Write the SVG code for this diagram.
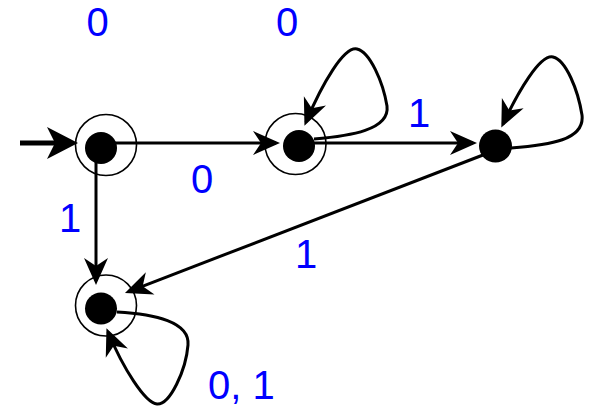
<svg xmlns="http://www.w3.org/2000/svg" width="593" height="407" viewBox="0 0 593 407">
<defs>
<style>
.ring{fill:none;stroke:#000;stroke-width:1.6}
.dot{fill:#000}
.edge{fill:none;stroke:#000;stroke-width:3;marker-end:url(#ah)}
.lbl{font-family:"Liberation Sans",Arial,sans-serif;font-size:40px;fill:#0000ff}
</style>
<marker id="ah" viewBox="-28 -13 30 26" markerWidth="30" markerHeight="26" refX="-4" refY="0" orient="auto" markerUnits="userSpaceOnUse">
<path d="M0,0 L-27,-12 L-19,0 L-27,12 Z" fill="#000"/>
</marker>
<marker id="ahBig" viewBox="-32 -17 34 34" markerWidth="34" markerHeight="34" refX="-8" refY="0" orient="auto" markerUnits="userSpaceOnUse">
<path d="M0,0 L-31,-16 L-23,0 L-31,16 Z" fill="#000"/>
</marker>
</defs>
<rect width="593" height="407" fill="#fff"/>
<g id="connectors">
<line x1="20" y1="143" x2="70" y2="143" stroke="#000" stroke-width="5" marker-end="url(#ahBig)"/>
<line class="edge" x1="101" y1="143" x2="276" y2="143"/>
<line class="edge" x1="299" y1="143" x2="473" y2="143"/>
<line class="edge" x1="96" y1="148" x2="96" y2="281"/>
<line class="edge" x1="483" y1="155" x2="128.7" y2="291.6"/>
<path class="edge" d="M314 139 C350 136 390 130 387 106 C383 82 370 52 357 49 C344 46 322 84 306 122"/>
<path class="edge" d="M511 148 C550 145 585 140 582 115 C578 90 566 60 553 57 C540 54 518 92 503 124"/>
<path class="edge" d="M117 312 C155 314 190 322 188 345 C186 370 170 405 157 404 C145 403 123 368 108 332"/>
</g>
<g id="q0">
<circle class="ring" cx="106" cy="145" r="30.5"/>
<circle class="dot" cx="101" cy="148" r="16"/>
</g>
<g id="q1">
<circle class="ring" cx="295.5" cy="144" r="30.5"/>
<circle class="dot" cx="299" cy="146" r="16"/>
</g>
<g id="q2">
<circle class="dot" cx="495.5" cy="146" r="16.5"/>
</g>
<g id="q3">
<circle class="ring" cx="106" cy="305.5" r="30.5"/>
<circle class="dot" cx="101" cy="308.5" r="16"/>
</g>
<g id="labels">
<text class="lbl" x="97.5" y="36" text-anchor="middle">0</text>
<text class="lbl" x="287" y="36" text-anchor="middle">0</text>
<text class="lbl" x="202" y="193" text-anchor="middle">0</text>
<text class="lbl" x="419" y="127" text-anchor="middle">1</text>
<text class="lbl" x="70" y="232" text-anchor="middle">1</text>
<text class="lbl" x="306" y="268" text-anchor="middle">1</text>
<text class="lbl" x="208" y="399">0, 1</text>
</g>
</svg>
